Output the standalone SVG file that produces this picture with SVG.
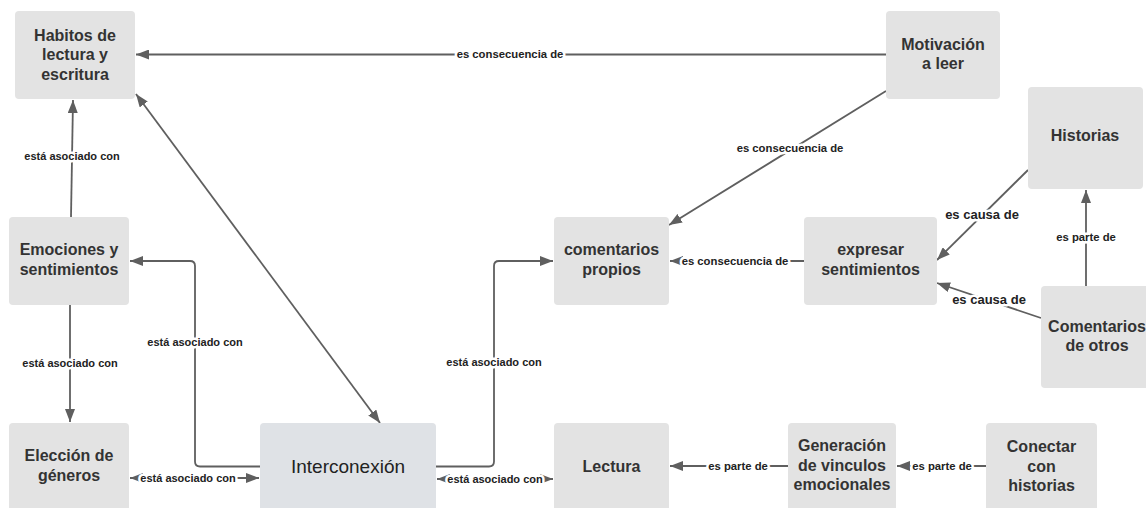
<svg xmlns="http://www.w3.org/2000/svg" width="1146" height="508" viewBox="0 0 1146 508">
<defs>
<style>
.box{fill:#e3e3e3;}
.boxb{fill:#dfe2e6;}
.t{font-family:"Liberation Sans",Arial,sans-serif;font-weight:bold;font-size:16px;fill:#333;text-anchor:middle;}
.ti{font-family:"Liberation Sans",Arial,sans-serif;font-size:19px;fill:#222;text-anchor:middle;}
.c{fill:none;stroke:#5f5f5f;stroke-width:1.8;}
.l{font-family:"Liberation Sans",Arial,sans-serif;font-weight:bold;font-size:11px;fill:#222;text-anchor:middle;paint-order:stroke;stroke:#fff;stroke-width:5px;stroke-linejoin:round;}
.lc{font-size:11.3px;}
.lb{font-size:13px;}
</style>
<marker id="a" markerUnits="userSpaceOnUse" markerWidth="13" markerHeight="10" refX="13" refY="5" orient="auto-start-reverse" viewBox="0 0 13 10">
<path d="M0,0 L13,5 L0,10 z" fill="#5f5f5f"/>
</marker>
</defs>
<rect width="1146" height="508" fill="#fff"/>
<g id="connectors">
<path class="c" d="M886,54.5 H136" marker-end="url(#a)"/>
<path class="c" d="M71,217 L73,100" marker-end="url(#a)"/>
<path class="c" d="M136,94 L380,423" marker-start="url(#a)" marker-end="url(#a)"/>
<path class="c" d="M70,305 V422" marker-end="url(#a)"/>
<path class="c" d="M260,466.5 H200 Q195,466.5 195,461.5 V266 Q195,261 190,261 H130" marker-end="url(#a)"/>
<path class="c" d="M130,478 H259" marker-start="url(#a)" marker-end="url(#a)"/>
<path class="c" d="M436,466.5 H489 Q494,466.5 494,461.5 V266 Q494,261 499,261 H553" marker-end="url(#a)"/>
<path class="c" d="M437,479 H553" marker-start="url(#a)" marker-end="url(#a)"/>
<path class="c" d="M804,261 H670" marker-end="url(#a)"/>
<path class="c" d="M886,91 L669,225" marker-end="url(#a)"/>
<path class="c" d="M1028,170 L937,260" marker-end="url(#a)"/>
<path class="c" d="M1041,318 L937,283" marker-end="url(#a)"/>
<path class="c" d="M1086,286 V190" marker-end="url(#a)"/>
<path class="c" d="M788,466 H670" marker-end="url(#a)"/>
<path class="c" d="M986,466 H897" marker-end="url(#a)"/>
<text class="l lc" x="510" y="58">es consecuencia de</text>
<text class="l" x="72" y="160">está asociado con</text>
<text class="l" x="70" y="367">está asociado con</text>
<text class="l" x="195" y="346">está asociado con</text>
<text class="l" x="188" y="482">está asociado con</text>
<text class="l" x="494" y="366">está asociado con</text>
<text class="l" x="495" y="483">está asociado con</text>
<text class="l lc" x="735" y="265">es consecuencia de</text>
<text class="l lc" x="790" y="152">es consecuencia de</text>
<text class="l lb" x="982" y="218.5">es causa de</text>
<text class="l lb" x="989" y="303.5">es causa de</text>
<text class="l lc" x="1086" y="241">es parte de</text>
<text class="l lc" x="738" y="470">es parte de</text>
<text class="l lc" x="942" y="470">es parte de</text>
</g>
<g id="habitos"><rect class="box" x="15" y="11" width="120" height="88" rx="4"/><text class="t" x="75" y="40.5">Habitos de</text><text class="t" x="75" y="60">lectura y</text><text class="t" x="75" y="79.5">escritura</text></g>
<g id="motivacion"><rect class="box" x="886" y="11" width="114" height="88" rx="4"/><text class="t" x="943" y="50">Motivación</text><text class="t" x="943" y="69">a leer</text></g>
<g id="historias"><rect class="box" x="1028" y="87" width="115" height="102" rx="4"/><text class="t" x="1085" y="141">Historias</text></g>
<g id="emociones"><rect class="box" x="9" y="217" width="120" height="88" rx="4"/><text class="t" x="69" y="255">Emociones y</text><text class="t" x="69" y="275">sentimientos</text></g>
<g id="comentarios-propios"><rect class="box" x="554" y="217" width="115" height="88" rx="4"/><text class="t" x="611.5" y="255">comentarios</text><text class="t" x="611.5" y="275">propios</text></g>
<g id="expresar"><rect class="box" x="804" y="217" width="133" height="88" rx="4"/><text class="t" x="870.5" y="255">expresar</text><text class="t" x="870.5" y="275">sentimientos</text></g>
<g id="comentarios-otros"><rect class="box" x="1041" y="286" width="112" height="102" rx="4"/><text class="t" x="1097" y="332">Comentarios</text><text class="t" x="1097" y="351">de otros</text></g>
<g id="eleccion"><rect class="box" x="9" y="423" width="120" height="88" rx="4"/><text class="t" x="69" y="461">Elección de</text><text class="t" x="69" y="481">géneros</text></g>
<g id="interconexion"><rect class="boxb" x="260" y="423" width="176" height="88" rx="4"/><text class="ti" x="348" y="473">Interconexión</text></g>
<g id="lectura"><rect class="box" x="554" y="423" width="115" height="88" rx="4"/><text class="t" x="611.5" y="472">Lectura</text></g>
<g id="generacion"><rect class="box" x="788" y="423" width="108" height="88" rx="4"/><text class="t" x="842" y="451">Generación</text><text class="t" x="842" y="471">de vinculos</text><text class="t" x="842" y="490">emocionales</text></g>
<g id="conectar"><rect class="box" x="986" y="423" width="111" height="88" rx="4"/><text class="t" x="1041.5" y="452">Conectar</text><text class="t" x="1041.5" y="472">con</text><text class="t" x="1041.5" y="491">historias</text></g>
</svg>
